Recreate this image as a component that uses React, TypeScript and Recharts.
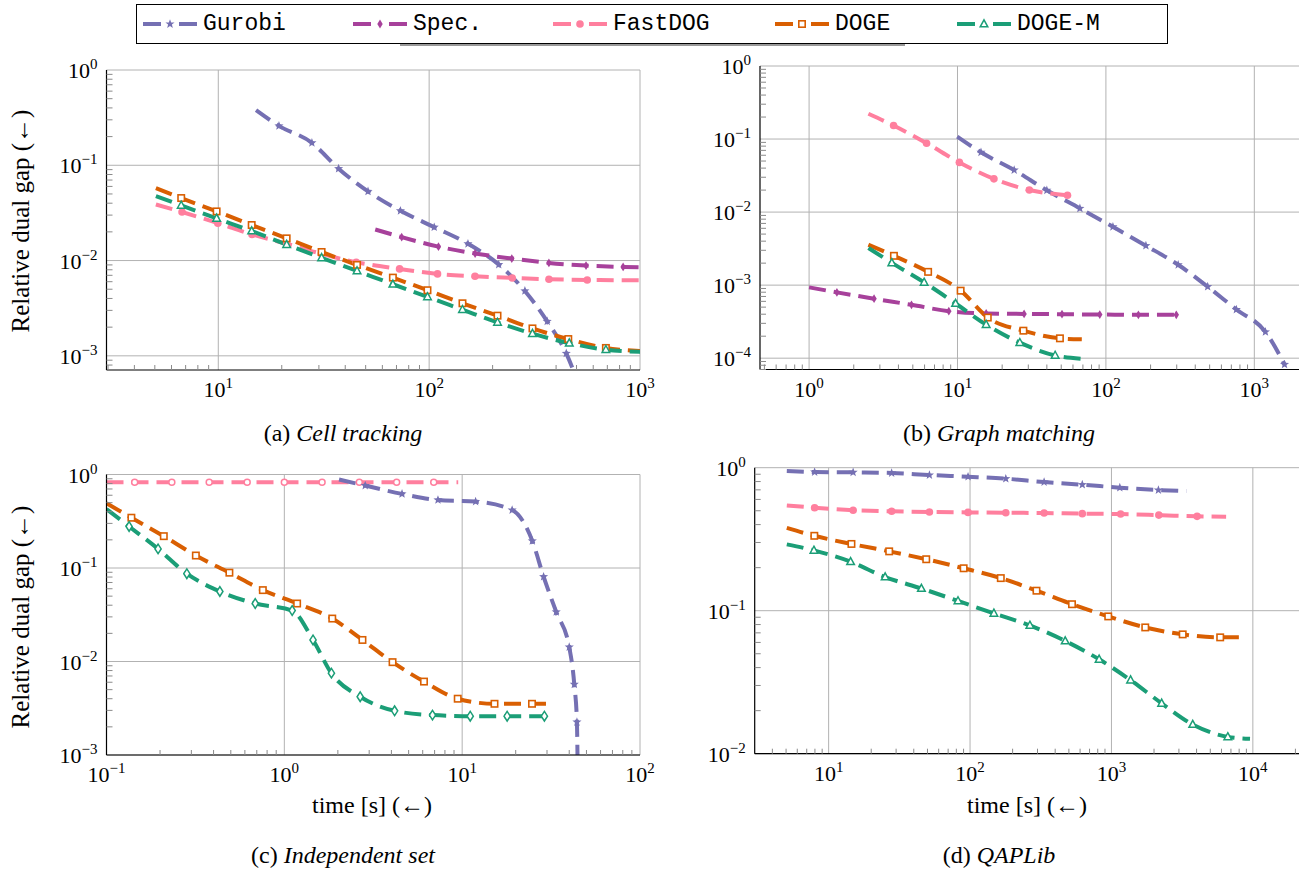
import React from 'react'
import { LineChart, Line, XAxis, YAxis, CartesianGrid } from 'recharts'

type Pt = [number, number] // [time, relative dual gap]
type SeriesId = 'gurobi' | 'spec' | 'fastdog' | 'doge' | 'dogem'
type MarkKind = 'star' | 'dot' | 'diamondFill' | 'square' | 'triangle' | 'circle' | 'diamond'

// (a) Cell tracking
const cellGurobi: Pt[] = [[15.1, 0.379], [19.4, 0.259], [27.8, 0.172], [37.2, 0.0922], [51.3, 0.0532], [73.1, 0.0333], [105.7, 0.0224], [152.8, 0.015], [213.8, 0.00908], [284.5, 0.0048], [363, 0.0023], [447, 0.00106], [494, 0.00062]]
const cellSpec: Pt[] = [[55.5, 0.0212], [74.1, 0.0176], [110.7, 0.014], [165.2, 0.01186], [246.6, 0.0105], [369.8, 0.00945], [554.6, 0.00886], [831.8, 0.00858], [1000, 0.0085]]
const cellFastdog: Pt[] = [[5.06, 0.0388], [6.73, 0.0323], [9.95, 0.0247], [14.45, 0.0188], [21.1, 0.015], [30.8, 0.0118], [45.1, 0.0096], [72.4, 0.00817], [109.6, 0.00724], [165, 0.00684], [247.7, 0.00657], [370, 0.00636], [562, 0.00626], [1000, 0.0062]]
const cellDoge: Pt[] = [[5.06, 0.0577], [6.67, 0.0453], [9.82, 0.0328], [14.4, 0.0236], [21.1, 0.0171], [30.9, 0.0123], [45.5, 0.009], [67.3, 0.00662], [98.2, 0.00488], [143.9, 0.00356], [211, 0.00264], [309, 0.00194], [457, 0.0015], [689, 0.00121], [1000, 0.00112]]
const cellDogeM: Pt[] = [[5.06, 0.0475], [6.67, 0.0379], [9.82, 0.0277], [14.4, 0.0204], [21.1, 0.0147], [30.9, 0.01067], [45.5, 0.00778], [67.3, 0.00564], [98.2, 0.00415], [143.9, 0.00305], [211, 0.00224], [309, 0.00171], [462, 0.00136], [689, 0.00116], [1000, 0.0011]]

// (b) Graph matching
const gmGurobi: Pt[] = [[9.96, 0.108], [14.4, 0.0658], [24.1, 0.0376], [40, 0.0199], [66.8, 0.01124], [111.5, 0.00628], [186, 0.00347], [307, 0.0019], [485, 0.000953], [757, 0.000464], [1188, 0.000229], [1598, 8.2e-5]]
const gmSpec: Pt[] = [[1, 0.000933], [1.54, 0.000796], [2.74, 0.000652], [4.9, 0.000538], [8.74, 0.00044], [15.6, 0.000409], [28.1, 0.000404], [50.6, 0.0004], [90.9, 0.000396], [165.5, 0.000392], [298, 0.000392]]
const gmFastdog: Pt[] = [[2.51, 0.222], [3.71, 0.153], [6.19, 0.0877], [10.3, 0.0479], [17.6, 0.0285], [30.5, 0.0201], [55.1, 0.017]]
const gmDoge: Pt[] = [[2.51, 0.00358], [3.73, 0.00252], [6.34, 0.00152], [10.5, 0.00084], [16, 0.00036], [27.8, 0.000238], [49, 0.000187], [68.8, 0.000181]]
const gmDogeM: Pt[] = [[2.51, 0.00322], [3.61, 0.00202], [5.96, 0.00109], [9.71, 0.000561], [15.6, 0.000288], [26.3, 0.000163], [45.5, 0.000109], [68.8, 9.8e-5]]

// (c) Independent set
const misFastdog: Pt[] = [[0.1, 0.827], [0.144, 0.827], [0.233, 0.827], [0.378, 0.827], [0.618, 0.827], [1, 0.827], [1.63, 0.827], [2.64, 0.827], [4.28, 0.827], [6.92, 0.827], [9.5, 0.827]]
const misGurobi: Pt[] = [[2.03, 0.884], [2.85, 0.762], [4.59, 0.62], [7.31, 0.534], [11.9, 0.513], [19.1, 0.417], [24.8, 0.195], [28.7, 0.0807], [33.8, 0.0339], [40, 0.01426], [42.7, 0.0057], [44.2, 0.00225], [44.6, 0.0007]]
const misDoge: Pt[] = [[0.1, 0.492], [0.138, 0.345], [0.21, 0.219], [0.318, 0.136], [0.491, 0.0891], [0.757, 0.058], [1.18, 0.0417], [1.86, 0.0288], [2.75, 0.017], [4.06, 0.00984], [6.1, 0.0061], [9.44, 0.004], [15.2, 0.00353], [24.7, 0.00353], [29.6, 0.00353]]
const misDogeM: Pt[] = [[0.1, 0.427], [0.134, 0.278], [0.195, 0.16], [0.283, 0.0869], [0.434, 0.0561], [0.686, 0.0417], [1.107, 0.0351], [1.45, 0.017], [1.84, 0.0075], [2.67, 0.0042], [4.17, 0.00297], [6.81, 0.00267], [11.1, 0.0026], [17.9, 0.0026], [29, 0.0026]]

// (d) QAPLib
const qapGurobi: Pt[] = [[5.06, 0.948], [7.96, 0.933], [14.9, 0.928], [27.9, 0.918], [51.6, 0.889], [96.8, 0.865], [179, 0.838], [334, 0.794], [622, 0.761], [1146, 0.725], [2148, 0.698], [3388, 0.687]]
const qapFastdog: Pt[] = [[5.06, 0.545], [7.96, 0.525], [14.9, 0.504], [27.9, 0.496], [51.6, 0.49], [96.8, 0.487], [179, 0.484], [334, 0.482], [622, 0.477], [1161, 0.474], [2163, 0.466], [4035, 0.457], [6470, 0.454]]
const qapDoge: Pt[] = [[5.06, 0.379], [7.92, 0.334], [14.5, 0.293], [26.8, 0.26], [49, 0.229], [90.1, 0.198], [165, 0.169], [295, 0.138], [526, 0.111], [949, 0.0912], [1734, 0.0764], [3190, 0.0683], [5875, 0.0651], [8670, 0.0651]]
const qapDogeM: Pt[] = [[5.06, 0.291], [7.87, 0.264], [14.3, 0.22], [25.1, 0.172], [45.3, 0.143], [82.2, 0.117], [147.5, 0.0958], [265, 0.0789], [471, 0.0614], [818, 0.0457], [1366, 0.0327], [2265, 0.0225], [3758, 0.016], [6650, 0.0131], [9550, 0.0127]]

const SERIES: Record<SeriesId, { name: string; color: string; mark: MarkKind }> = {
  gurobi: { name: 'Gurobi', color: '#7570b3', mark: 'star' },
  spec: { name: 'Spec.', color: '#a7419b', mark: 'diamondFill' },
  fastdog: { name: 'FastDOG', color: '#ff7f9e', mark: 'dot' },
  doge: { name: 'DOGE', color: '#d95f02', mark: 'square' },
  dogem: { name: 'DOGE-M', color: '#1b9e77', mark: 'triangle' },
}
const LEGEND_ORDER: SeriesId[] = ['gurobi', 'spec', 'fastdog', 'doge', 'dogem']
const LEGEND_X = [143, 353, 553, 775, 957]

const SERIF = 'Liberation Serif, Times New Roman, Times, serif'
const MONO = 'Liberation Mono, Courier New, monospace'
const TICK_GRAY = '#8a8a8a'

interface SeriesCfg { id: SeriesId; data: Pt[]; markLast?: boolean; mark?: MarkKind }
interface PanelCfg {
  box: [number, number, number, number]
  plot: [number, number, number, number]
  xDomain: [number, number]
  yDomain: [number, number]
  xMajor: number[]
  yMajor: number[]
  series: SeriesCfg[]
}

const PANELS: PanelCfg[] = [
  {
    box: [0, 50, 660, 395], plot: [106.5, 70, 640, 370],
    xDomain: [2.95, 1000], yDomain: [7.1e-4, 1],
    xMajor: [10, 100, 1000], yMajor: [1e-3, 1e-2, 1e-1, 1],
    series: [
      { id: 'gurobi', data: cellGurobi },
      { id: 'spec', data: cellSpec },
      { id: 'fastdog', data: cellFastdog },
      { id: 'doge', data: cellDoge },
      { id: 'dogem', data: cellDogeM },
    ],
  },
  {
    box: [680, 45, 634, 400], plot: [760, 66, 1299, 369.5],
    xDomain: [0.467, 2000], yDomain: [7e-5, 1],
    xMajor: [1, 10, 100, 1000], yMajor: [1e-4, 1e-3, 1e-2, 1e-1, 1],
    series: [
      { id: 'gurobi', data: gmGurobi, markLast: true },
      { id: 'spec', data: gmSpec, markLast: true },
      { id: 'fastdog', data: gmFastdog, markLast: true },
      { id: 'doge', data: gmDoge },
      { id: 'dogem', data: gmDogeM },
    ],
  },
  {
    box: [0, 455, 660, 340], plot: [106.5, 474.5, 640, 755],
    xDomain: [0.1, 100], yDomain: [1e-3, 1],
    xMajor: [0.1, 1, 10, 100], yMajor: [1e-3, 1e-2, 1e-1, 1],
    series: [
      { id: 'fastdog', data: misFastdog, mark: 'circle' },
      { id: 'gurobi', data: misGurobi },
      { id: 'doge', data: misDoge },
      { id: 'dogem', data: misDogeM, markLast: true, mark: 'diamond' },
    ],
  },
  {
    box: [680, 450, 634, 345], plot: [754.7, 467.7, 1299, 753.7],
    xDomain: [3, 21200], yDomain: [0.01, 1],
    xMajor: [10, 100, 1000, 10000], yMajor: [0.01, 0.1, 1],
    series: [
      { id: 'gurobi', data: qapGurobi },
      { id: 'fastdog', data: qapFastdog },
      { id: 'doge', data: qapDoge },
      { id: 'dogem', data: qapDogeM },
    ],
  },
]

function minorTicks(lo: number, hi: number) {
  const out: number[] = []
  for (let e = Math.floor(Math.log10(lo)); e <= Math.ceil(Math.log10(hi)); e++) {
    for (let m = 2; m <= 9; m++) {
      const v = m * Math.pow(10, e)
      if (v > lo && v < hi) out.push(v)
    }
  }
  return out
}

function Mark({ kind, cx, cy, color }: { kind: MarkKind; cx: number; cy: number; color: string }) {
  switch (kind) {
    case 'star': {
      const pts: string[] = []
      for (let i = 0; i < 10; i++) {
        const r = i % 2 ? 2 : 4.8
        const a = -Math.PI / 2 + (i * Math.PI) / 5
        pts.push(`${cx + r * Math.cos(a)},${cy + r * Math.sin(a)}`)
      }
      return <polygon points={pts.join(' ')} fill={color} />
    }
    case 'diamondFill':
      return <polygon points={`${cx},${cy - 4.4} ${cx + 2.7},${cy} ${cx},${cy + 4.4} ${cx - 2.7},${cy}`} fill={color} />
    case 'dot':
      return <circle cx={cx} cy={cy} r={3.8} fill={color} />
    case 'circle':
      return <circle cx={cx} cy={cy} r={3} fill="#fff" stroke={color} strokeWidth={1.5} />
    case 'square':
      return <rect x={cx - 3.2} y={cy - 3.2} width={6.4} height={6.4} fill="#fff" stroke={color} strokeWidth={1.6} />
    case 'triangle':
      return <polygon points={`${cx},${cy - 4.2} ${cx + 3.8},${cy + 2.8} ${cx - 3.8},${cy + 2.8}`} fill="#fff" stroke={color} strokeWidth={1.5} />
    case 'diamond':
      return <polygon points={`${cx},${cy - 4.8} ${cx + 3.1},${cy} ${cx},${cy + 4.8} ${cx - 3.1},${cy}`} fill="#fff" stroke={color} strokeWidth={1.5} />
  }
  return null
}

function expLabel(v: number) {
  const e = Math.round(Math.log10(v))
  return e < 0 ? `\u2212${-e}` : `${e}`
}

function isDecade(v: number) {
  return Math.abs(Math.log10(v) - Math.round(Math.log10(v))) < 1e-6
}

// bottom axis: decade labels below, minor tick marks pointing into the plot
function XTick(props: any) {
  const { x, y, payload } = props
  if (!isDecade(payload.value)) {
    return <line x1={x} y1={y} x2={x} y2={y - 5} stroke={TICK_GRAY} strokeWidth={1} />
  }
  return (
    <text x={x} y={y + 27} textAnchor="middle" style={{ fontFamily: SERIF, fontSize: 22 }} fill="#000">
      <tspan>10</tspan>
      <tspan dy={-9} style={{ fontSize: 15 }}>{expLabel(payload.value)}</tspan>
    </text>
  )
}

function YTick(props: any) {
  const { x, y, payload } = props
  if (!isDecade(payload.value)) {
    return <line x1={x} y1={y} x2={x + 6} y2={y} stroke={TICK_GRAY} strokeWidth={1} />
  }
  return (
    <text x={x - 9} y={y + 8} textAnchor="end" style={{ fontFamily: SERIF, fontSize: 22 }} fill="#000">
      <tspan>10</tspan>
      <tspan dy={-9} style={{ fontSize: 15 }}>{expLabel(payload.value)}</tspan>
    </text>
  )
}

function RightTick(props: any) {
  const { x, y } = props
  return <line x1={x} y1={y} x2={x - 6} y2={y} stroke={TICK_GRAY} strokeWidth={1} />
}

const XH = 40
const YW = 60

function Panel({ cfg }: { cfg: PanelCfg }) {
  const [bl, bt, bw, bh] = cfg.box
  const [pl, pt, pr, pb] = cfg.plot
  const margin = { top: pt - bt, right: bl + bw - pr, bottom: bt + bh - pb - XH, left: pl - bl - YW }
  const xMinor = minorTicks(cfg.xDomain[0], cfg.xDomain[1])
  const yMinor = minorTicks(cfg.yDomain[0], cfg.yDomain[1])
  const frame = { stroke: '#000', strokeWidth: 1.2 }

  return (
    <div style={{ position: 'absolute', left: bl, top: bt }}>
      <LineChart width={bw} height={bh} margin={margin}>
        <CartesianGrid stroke="#b2b2b2" strokeWidth={1} horizontalValues={cfg.yMajor} verticalValues={cfg.xMajor} />
        <XAxis dataKey="t" type="number" scale="log" domain={cfg.xDomain} allowDataOverflow
          ticks={[...cfg.xMajor, ...xMinor]} interval={0} height={XH} tickSize={0} tickMargin={0} tickLine={false}
          axisLine={frame} tick={(p: any) => <XTick {...p} />} />
        <YAxis type="number" scale="log" domain={cfg.yDomain} allowDataOverflow
          ticks={[...cfg.yMajor, ...yMinor]} interval={0} width={YW} tickSize={0} tickMargin={0} tickLine={false}
          axisLine={frame} tick={(p: any) => <YTick {...p} />} />
        <YAxis yAxisId="right" orientation="right" type="number" scale="log" domain={cfg.yDomain} allowDataOverflow
          ticks={yMinor} interval={0} width={0} tickSize={0} tickMargin={0} tickLine={false}
          axisLine={frame} tick={(p: any) => <RightTick {...p} />} />
        {cfg.series.map((s) => {
          const st = SERIES[s.id]
          const kind = s.mark ?? st.mark
          const n = s.data.length
          return (
            <Line
              key={s.id}
              data={s.data.map(([t, gap]) => ({ t, gap }))}
              dataKey="gap"
              type="monotone"
              stroke={st.color}
              strokeWidth={4}
              strokeDasharray="17 8"
              activeDot={false}
              isAnimationActive={false}
              dot={(p: any) => {
                const { cx, cy, index } = p
                if (cx == null || cy == null || index === 0 || (index === n - 1 && !s.markLast)) {
                  return <g key={`d${index}`} />
                }
                return <g key={`d${index}`}><Mark kind={kind} cx={cx} cy={cy} color={st.color} /></g>
              }}
            />
          )
        })}
      </LineChart>
    </div>
  )
}

function Legend() {
  return (
    <>
      <div style={{ position: 'absolute', left: 136, top: 4, width: 1032, height: 40, border: '1.2px solid #000', boxSizing: 'border-box', background: '#fff' }} />
      <div style={{ position: 'absolute', left: 400, top: 44, width: 505, height: 1.5, background: '#555', opacity: 0.6 }} />
      {LEGEND_ORDER.map((id, i) => {
        const st = SERIES[id]
        return (
          <div key={id} style={{ position: 'absolute', left: LEGEND_X[i], top: 4, height: 40, display: 'flex', alignItems: 'center' }}>
            <svg width={54} height={20}>
              <line x1={0} y1={10} x2={54} y2={10} stroke={st.color} strokeWidth={4} strokeDasharray="18 18" />
              <Mark kind={st.mark} cx={27} cy={10} color={st.color} />
            </svg>
            <span style={{ marginLeft: 6, fontFamily: MONO, fontSize: 23, lineHeight: 1, color: '#000' }}>{st.name}</span>
          </div>
        )
      })}
    </>
  )
}

function Texts() {
  const t = { style: { fontFamily: SERIF }, fill: '#000' }
  return (
    <svg width={1314} height={871} style={{ position: 'absolute', left: 0, top: 0 }}>
      <text {...t} fontSize={25} textAnchor="middle" transform="translate(29,221) rotate(-90)">Relative dual gap (←)</text>
      <text {...t} fontSize={25} textAnchor="middle" transform="translate(29,617) rotate(-90)">Relative dual gap (←)</text>
      <text {...t} fontSize={24} textAnchor="middle" x={372} y={813}>time [s] (←)</text>
      <text {...t} fontSize={24} textAnchor="middle" x={1027} y={813}>time [s] (←)</text>
      <text {...t} fontSize={24} textAnchor="middle" x={343} y={441}>(a) <tspan fontStyle="italic">Cell tracking</tspan></text>
      <text {...t} fontSize={24} textAnchor="middle" x={999} y={441}>(b) <tspan fontStyle="italic">Graph matching</tspan></text>
      <text {...t} fontSize={24} textAnchor="middle" x={343} y={863}>(c) <tspan fontStyle="italic">Independent set</tspan></text>
      <text {...t} fontSize={24} textAnchor="middle" x={999} y={863}>(d) <tspan fontStyle="italic">QAPLib</tspan></text>
    </svg>
  )
}

export default function App() {
  return (
    <div style={{ position: 'absolute', left: 0, top: 0, width: 1314, height: 871, background: '#fff', overflow: 'hidden' }}>
      <Texts />
      {PANELS.map((cfg, i) => <Panel key={i} cfg={cfg} />)}
      <Legend />
    </div>
  )
}
